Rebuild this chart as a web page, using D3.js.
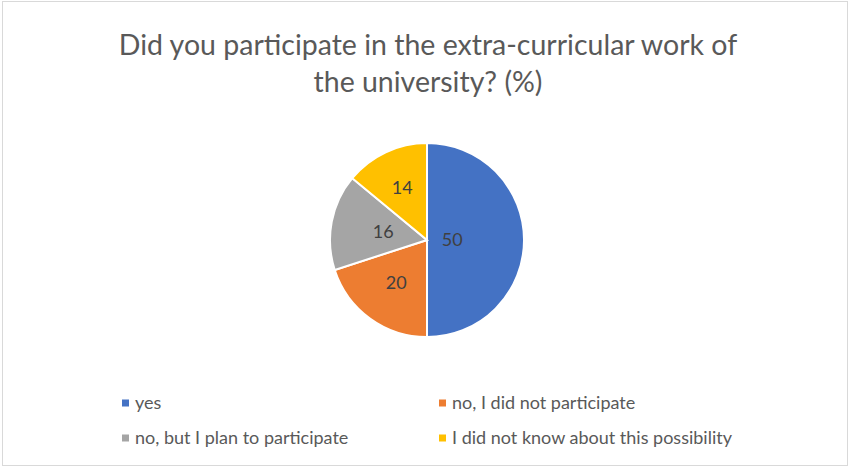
<!DOCTYPE html>
<html>
<head>
<meta charset="utf-8">
<script src="https://cdn.jsdelivr.net/npm/d3@7"></script>
<style>
  body { margin: 0; background: #fff; }
  svg { display: block; }
</style>
</head>
<body>
<div id="chart"></div>
<script>
const categories = ["yes", "no, I did not participate", "no, but I plan to participate", "I did not know about this possibility"];
const values = [50, 20, 16, 14];
const colors = ["#4472C4", "#ED7D31", "#A5A5A5", "#FFC000"];
const titleLines = ["Did you participate in the extra-curricular work of", "the university? (%)"];

const W = 849, H = 467;
const FONT = "Lato, 'Open Sans', sans-serif";

const svg = d3.select("#chart").append("svg")
    .attr("width", W)
    .attr("height", H);

svg.append("rect")
    .attr("x", 2.5).attr("y", 1.5)
    .attr("width", W - 4).attr("height", H - 3)
    .attr("fill", "#fff")
    .attr("stroke", "#d9d9d9");

// title
svg.append("g").selectAll("text")
    .data(titleLines)
    .enter()
    .append("text")
    .attr("x", 428)
    .attr("y", (d, i) => 55 + i * 37)
    .attr("text-anchor", "middle")
    .attr("font-family", FONT)
    .attr("font-size", 28.5)
    .attr("fill", "#595959")
    .text(d => d);

// pie
const cx = 427, cy = 240, R = 97;
const pie = d3.pie().sort(null).value(d => d);
const arcs = pie(values);
const arc = d3.arc().innerRadius(0).outerRadius(R);

const g = svg.append("g").attr("transform", `translate(${cx},${cy})`);

g.selectAll("path")
    .data(arcs)
    .enter()
    .append("path")
    .attr("d", arc)
    .attr("fill", (d, i) => colors[i])
    .attr("stroke", "#fff")
    .attr("stroke-width", 2);

// excel "best fit" labels sit at different depths per slice
const labelDepth = [0.26, 0.54, 0.46, 0.6];
g.selectAll("text")
    .data(arcs)
    .enter()
    .append("text")
    .attr("transform", (d, i) => {
        const r = R * labelDepth[i];
        const a = (d.startAngle + d.endAngle) / 2;
        return `translate(${Math.sin(a) * r},${-Math.cos(a) * r})`;
    })
    .attr("text-anchor", "middle")
    .attr("dy", "0.35em")
    .attr("font-family", FONT)
    .attr("font-size", 18)
    .attr("fill", "#404040")
    .text(d => d.value);

// legend
const legendX = [122, 439], legendY = [403, 438];
const legend = svg.append("g").selectAll("g")
    .data(categories)
    .enter()
    .append("g")
    .attr("transform", (d, i) => `translate(${legendX[i % 2]},${legendY[Math.floor(i / 2)]})`);

legend.append("rect")
    .attr("x", 0).attr("y", -3.5)
    .attr("width", 7).attr("height", 7)
    .attr("fill", (d, i) => colors[i]);

legend.append("text")
    .attr("x", 13)
    .attr("dy", "0.35em")
    .attr("font-family", FONT)
    .attr("font-size", 18)
    .attr("fill", "#595959")
    .text(d => d);
</script>
</body>
</html>
